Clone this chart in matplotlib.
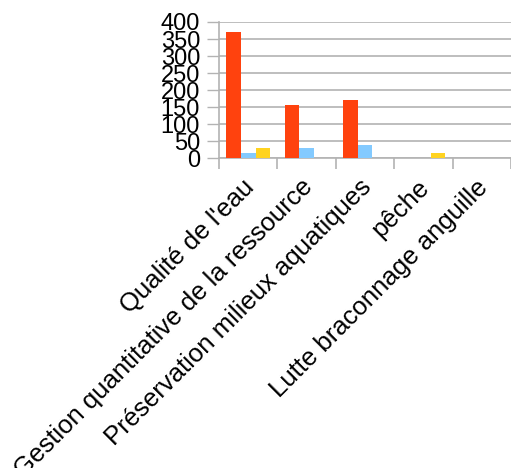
import numpy as np
import matplotlib
matplotlib.use("Agg")
import matplotlib.pyplot as plt
from matplotlib.transforms import ScaledTranslation

plt.rcParams['font.family'] = ['Liberation Sans', 'DejaVu Sans']

categories = ["Qualité de l'eau", "Gestion quantitative de la ressource",
              "Préservation milieux aquatiques", "pêche", "Lutte braconnage anguille"]
serie_rouge = [370, 156, 171, 0, 0]
serie_bleue = [15, 30, 38, 0, 0]
serie_jaune = [30, 0, 0, 15, 0]
y_ticks = [0, 50, 100, 150, 200, 250, 300, 350, 400]

gris = '#b3b3b3'

fig = plt.figure(figsize=(5.11, 4.68), dpi=100)
ax = fig.add_axes([219/511, 1 - 158.3/468, 292/511, 136.3/468])

x = np.arange(len(categories))
w = 0.25
ax.bar(x - w, serie_rouge, w, color='#ff420e', zorder=3)
ax.bar(x, serie_bleue, w, color='#83caff', zorder=3)
ax.bar(x + w, serie_jaune, w, color='#ffd320', zorder=3)

ax.set_xlim(-0.5, len(categories) - 0.5)
ax.set_ylim(0, 400)
ax.set_yticks(y_ticks)
ax.set_yticklabels([str(v) for v in y_ticks], fontsize=17)
ax.yaxis.grid(True, color=gris, lw=1.2, zorder=0)
ax.tick_params(axis='y', length=8.6, width=1, color=gris, pad=5)

ax.set_xticks(x)
ax.set_xticks(np.arange(-0.5, len(categories)), minor=True)
ax.set_xticklabels(categories, rotation=45, ha='right', va='top', fontsize=18.5)
ax.tick_params(axis='x', which='major', length=0, pad=12)
ax.tick_params(axis='x', which='minor', length=8, width=1.2, color=gris)
dx = ScaledTranslation(11/100, 0, fig.dpi_scale_trans)
for lab in ax.get_xticklabels():
    lab.set_transform(lab.get_transform() + dx)

for s in ['top', 'right']:
    ax.spines[s].set_visible(False)
ax.spines['left'].set_color(gris)
ax.spines['bottom'].set_color(gris)
ax.spines['left'].set_linewidth(1.2)
ax.spines['bottom'].set_linewidth(1.2)

fig.savefig('out.png', dpi=100)
